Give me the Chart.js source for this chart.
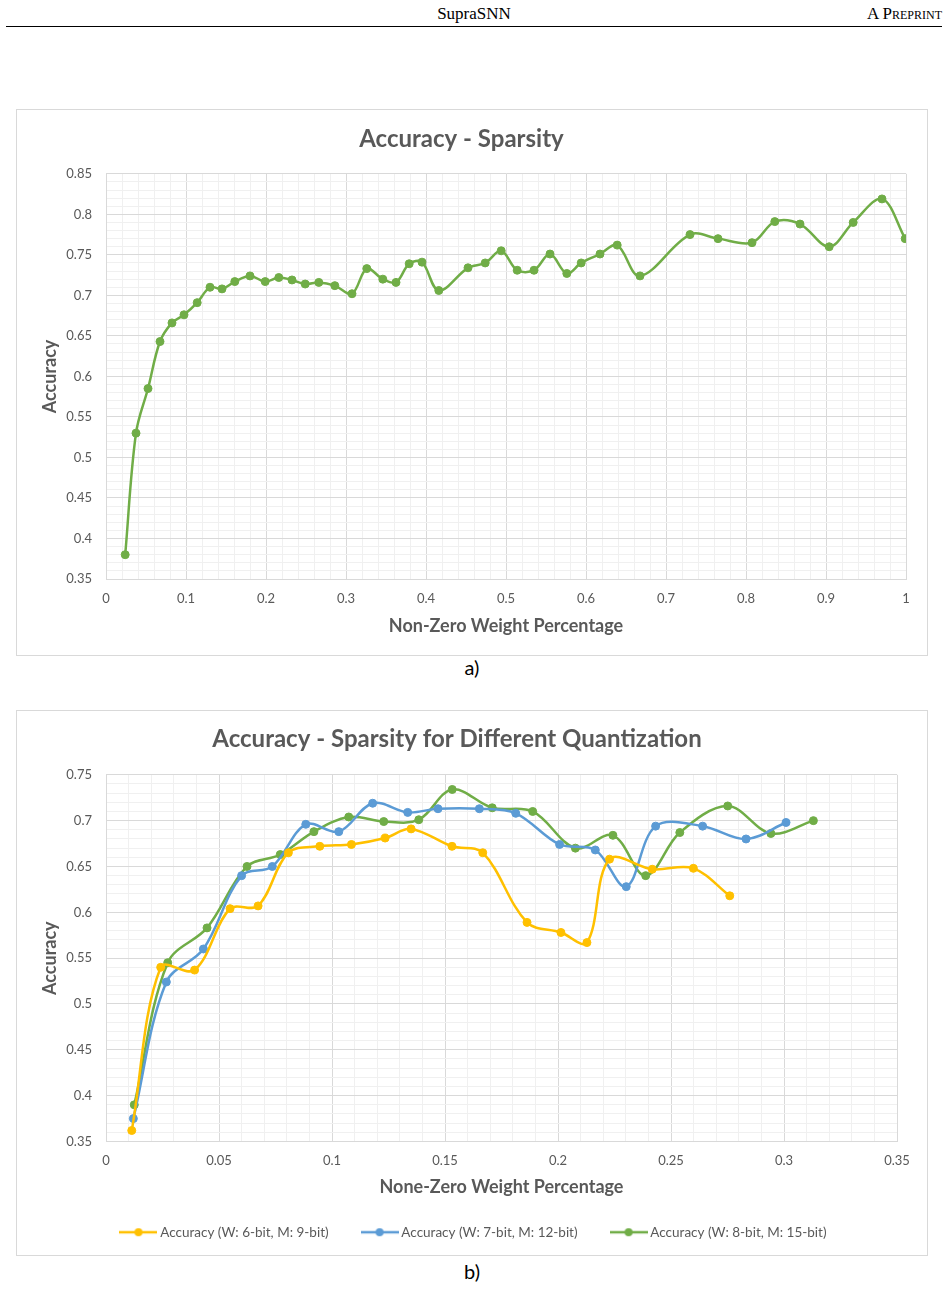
<!DOCTYPE html>
<html>
<head>
<meta charset="utf-8">
<script src="https://cdn.jsdelivr.net/npm/chart.js@4.4.1/dist/chart.umd.min.js"></script>
<style>
  html, body { margin: 0; padding: 0; background: #fff; }
  body { width: 948px; height: 1289px; position: relative; overflow: hidden; }
  .hdr { position: absolute; left: 6px; top: 0; width: 936px; height: 26px; border-bottom: 1px solid #000;
         font-family: "Liberation Serif", serif; font-size: 17px; color: #000; }
  .hdr .mid { position: absolute; left: 0; width: 100%; top: 4px; text-align: center; }
  .hdr .right { position: absolute; right: 0; top: 4px; font-variant: small-caps; }
  .box { position: absolute; left: 16px; width: 912px; border: 1px solid #d9d9d9; box-sizing: border-box; }
  .cap { position: absolute; left: 0; width: 944px; text-align: center; font-family: Lato, sans-serif; font-size: 20px; color: #000; }
</style>
</head>
<body>
<div class="hdr"><div class="mid">SupraSNN</div><div class="right">A Preprint</div></div>

<div class="box" style="top:109px;height:547px;"><canvas id="chartA" width="910" height="545"></canvas></div>
<div class="cap" style="top:655px;">a)</div>

<div class="box" style="top:710px;height:546px;"><canvas id="chartB" width="910" height="544"></canvas></div>
<div class="cap" style="top:1259px;">b)</div>

<script>
// chart a) accuracy vs non-zero weight percentage
const sparsityX = [0.024, 0.0375, 0.0525, 0.0675, 0.0825, 0.0975, 0.114, 0.13, 0.145, 0.161,
  0.18, 0.199, 0.216, 0.2325, 0.249, 0.266, 0.286, 0.3075, 0.326, 0.346,
  0.3625, 0.379, 0.395, 0.416, 0.4525, 0.474, 0.494, 0.514, 0.535, 0.555,
  0.576, 0.594, 0.6175, 0.639, 0.6675, 0.73, 0.765, 0.8075, 0.836, 0.8675,
  0.904, 0.934, 0.97, 0.999];
const sparsityAcc = [0.380, 0.530, 0.585, 0.643, 0.666, 0.676, 0.691, 0.710, 0.708, 0.717,
  0.724, 0.717, 0.722, 0.719, 0.714, 0.716, 0.712, 0.702, 0.733, 0.720,
  0.716, 0.739, 0.741, 0.706, 0.734, 0.740, 0.755, 0.731, 0.731, 0.751,
  0.727, 0.740, 0.751, 0.762, 0.724, 0.775, 0.770, 0.765, 0.791, 0.788,
  0.760, 0.790, 0.819, 0.770];

// chart b) three quantization settings
const q6Label = "Accuracy (W: 6-bit, M: 9-bit)";
const q6X = [0.0114, 0.0242, 0.0392, 0.0549, 0.0673, 0.0807, 0.0946, 0.1086, 0.1235, 0.135,
  0.1531, 0.1667, 0.1863, 0.2013, 0.2128, 0.2228, 0.2417, 0.2599, 0.276];
const q6Acc = [0.362, 0.540, 0.537, 0.604, 0.607, 0.665, 0.672, 0.674, 0.681, 0.691,
  0.672, 0.665, 0.589, 0.578, 0.567, 0.658, 0.647, 0.648, 0.618];

const q7Label = "Accuracy (W: 7-bit, M: 12-bit)";
const q7X = [0.0121, 0.0267, 0.0431, 0.06, 0.0736, 0.0884, 0.103, 0.118, 0.1335, 0.1469,
  0.1652, 0.1813, 0.2007, 0.2165, 0.2302, 0.2432, 0.264, 0.2832, 0.3009];
const q7Acc = [0.375, 0.524, 0.560, 0.640, 0.650, 0.696, 0.688, 0.719, 0.709, 0.713,
  0.713, 0.708, 0.674, 0.668, 0.628, 0.694, 0.694, 0.680, 0.698];

const q8Label = "Accuracy (W: 8-bit, M: 15-bit)";
const q8X = [0.0125, 0.0273, 0.0447, 0.0624, 0.0771, 0.092, 0.1074, 0.1229, 0.1384, 0.1532,
  0.1709, 0.1888, 0.2077, 0.2243, 0.2388, 0.2539, 0.2751, 0.2942, 0.313];
const q8Acc = [0.390, 0.545, 0.583, 0.650, 0.663, 0.688, 0.704, 0.699, 0.701, 0.734,
  0.714, 0.710, 0.670, 0.684, 0.640, 0.687, 0.716, 0.686, 0.700];

const GREEN = "#70ad47", BLUE = "#5b9bd5", GOLD = "#ffc000";
const TXT = "#595959";
Chart.defaults.font.family = "Lato, 'Open Sans', sans-serif";
Chart.defaults.color = TXT;

function pts(xs, ys) { return xs.map((x, i) => ({ x: x, y: ys[i] })); }
function isMajor(v, step) { return Math.abs(v / step - Math.round(v / step)) < 1e-6; }
function fmt(v) { return String(Math.round(v * 100) / 100); }

function axis(min, max, minor, major, w, h, titleText, titlePad) {
  return {
    type: "linear", min: min, max: max,
    afterFit: s => { if (w) s.width = w; if (h) s.height = h; },
    ticks: {
      stepSize: minor, autoSkip: false, maxRotation: 0, minRotation: 0, padding: w ? 14 : 12,
      color: TXT, font: { size: 13 },
      callback: v => isMajor(v, major) ? fmt(v) : ""
    },
    grid: {
      drawTicks: false, lineWidth: 1,
      color: c => isMajor(c.tick.value, major) ? "#d9d9d9" : "#f0f0f0"
    },
    border: { color: "#d9d9d9" },
    title: { display: true, text: titleText, color: TXT, font: { size: 18, weight: "bold" }, padding: titlePad }
  };
}

function series(label, xs, ys, color) {
  return {
    label: label, data: pts(xs, ys),
    borderColor: color, backgroundColor: color,
    pointBackgroundColor: color, pointBorderColor: color,
    borderWidth: 2.5, pointRadius: 4, pointBorderWidth: 1,
    tension: 0.35, fill: false
  };
}

new Chart(document.getElementById("chartA").getContext("2d"), {
  type: "line",
  data: { datasets: [series("Accuracy", sparsityX, sparsityAcc, GREEN)] },
  options: {
    responsive: false, animation: false, devicePixelRatio: 1,
    layout: { padding: { left: 0, right: 21, top: 0, bottom: 0 } },
    plugins: {
      legend: { display: false },
      tooltip: { enabled: false },
      title: { display: true, text: "Accuracy - Sparsity", color: TXT,
               font: { size: 24, weight: "bold" }, padding: { top: 15, bottom: 20 } }
    },
    scales: {
      x: axis(0, 1, 0.02, 0.1, 0, 76, "Non-Zero Weight Percentage", { top: 0, bottom: 18 }),
      y: axis(0.35, 0.85, 0.01, 0.05, 89, 0, "Accuracy", { top: 22, bottom: 0 })
    }
  }
});

function legendIcon(color) {
  const c = document.createElement("canvas");
  c.width = 38; c.height = 10;
  const g = c.getContext("2d");
  g.strokeStyle = color; g.lineWidth = 2.5;
  g.beginPath(); g.moveTo(0, 5); g.lineTo(38, 5); g.stroke();
  g.fillStyle = color;
  g.beginPath(); g.arc(19, 5, 4, 0, Math.PI * 2); g.fill();
  return c;
}
const icons = [legendIcon(GOLD), legendIcon(BLUE), legendIcon(GREEN)];

// nudge the legend block to the right, as in the original figure
const legendShift = {
  id: "legendShift",
  afterLayout(chart) { chart.legend.left += 18; chart.legend.right += 18; }
};

new Chart(document.getElementById("chartB").getContext("2d"), {
  type: "line",
  data: {
    datasets: [
      series(q6Label, q6X, q6Acc, GOLD),
      series(q7Label, q7X, q7Acc, BLUE),
      series(q8Label, q8X, q8Acc, GREEN)
    ]
  },
  plugins: [legendShift],
  options: {
    responsive: false, animation: false, devicePixelRatio: 1,
    layout: { padding: { left: 0, right: 30, top: 0, bottom: 6 } },
    plugins: {
      tooltip: { enabled: false },
      title: { display: true, text: "Accuracy - Sparsity for Different Quantization", color: TXT,
               font: { size: 24, weight: "bold" }, padding: { top: 14, bottom: 21 } },
      legend: {
        position: "bottom",
        labels: {
          color: TXT, font: { size: 13.5 }, padding: 36,
          usePointStyle: true, pointStyleWidth: 30,
          generateLabels: chart => Chart.defaults.plugins.legend.labels.generateLabels(chart)
            .map((it, i) => Object.assign(it, { pointStyle: icons[i] }))
        }
      }
    },
    scales: {
      x: axis(0, 0.35, 0.01, 0.05, 0, 48, "None-Zero Weight Percentage", { top: 0, bottom: -8 }),
      y: axis(0.35, 0.75, 0.01, 0.05, 89, 0, "Accuracy", { top: 22, bottom: 0 })
    }
  }
});
</script>
</body>
</html>
